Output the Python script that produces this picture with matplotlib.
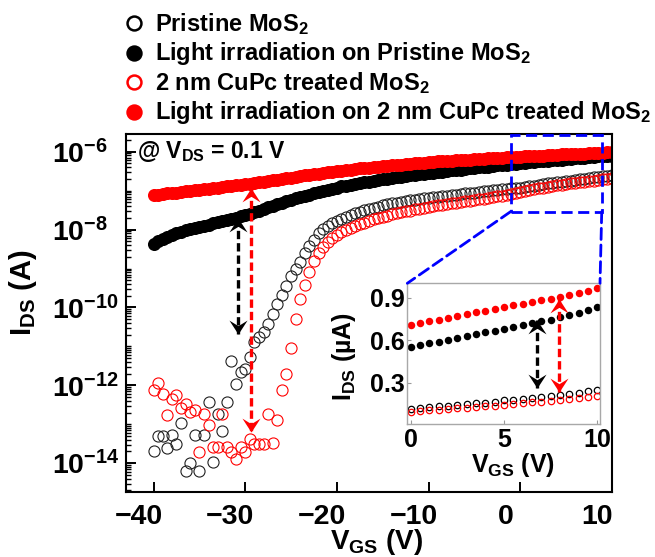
import numpy as np
import matplotlib
matplotlib.use("Agg")
import matplotlib.pyplot as plt
from matplotlib.ticker import FixedLocator, LogLocator, LogFormatterMathtext, NullFormatter
from matplotlib.patches import Rectangle, ConnectionPatch
from matplotlib.lines import Line2D
from matplotlib.path import Path
from matplotlib.transforms import ScaledTranslation

plt.rcParams['font.family'] = ['Liberation Sans', 'DejaVu Sans']
plt.rcParams['font.weight'] = 'bold'
plt.rcParams['axes.labelweight'] = 'bold'
plt.rcParams['mathtext.fontset'] = 'custom'
plt.rcParams['mathtext.rm'] = 'Liberation Sans:bold'
plt.rcParams['mathtext.bf'] = 'Liberation Sans:bold'
plt.rcParams['mathtext.it'] = 'Liberation Sans:bold:italic'
plt.rcParams['mathtext.default'] = 'regular'
plt.rcParams['axes.unicode_minus'] = True

# ---- data (main panel, VGS sweep -40 .. 10 V in 0.5 V steps, log10 of IDS in A)
vgs = np.linspace(-40, 10, 101)

log_dark_pristine = [
    -13.69, -13.31, -13.31, -13.62, -13.28, -13.50, -12.98, -14.20, -14.00, -13.28,
    -14.20, -13.28, -12.43, -13.97, -12.73, -13.18, -12.43, -11.37, -11.97, -11.66,
    -11.57, -11.27, -10.88, -10.75, -10.63, -10.43, -10.17, -9.90, -9.68, -9.45,
    -9.20, -9.00, -8.82, -8.60, -8.43, -8.26, -8.10, -7.98, -7.90, -7.84,
    -7.78, -7.72, -7.67, -7.62, -7.58, -7.54, -7.50, -7.47, -7.44, -7.41,
    -7.38, -7.35, -7.33, -7.31, -7.29, -7.27, -7.25, -7.24, -7.22, -7.20,
    -7.19, -7.17, -7.16, -7.15, -7.13, -7.12, -7.10, -7.09, -7.07, -7.06,
    -7.05, -7.03, -7.02, -7.01, -6.99, -6.98, -6.97, -6.95, -6.94, -6.93,
    -6.92, -6.91, -6.89, -6.87, -6.85, -6.83, -6.81, -6.80, -6.78, -6.77,
    -6.75, -6.74, -6.72, -6.71, -6.69, -6.68, -6.66, -6.65, -6.63, -6.62,
    -6.60]

log_light_pristine = [
    -8.36, -8.30, -8.24, -8.18, -8.13, -8.09, -8.05, -8.02, -7.99, -7.96,
    -7.93, -7.90, -7.87, -7.84, -7.81, -7.78, -7.75, -7.72, -7.69, -7.66,
    -7.63, -7.59, -7.55, -7.51, -7.47, -7.43, -7.39, -7.35, -7.31, -7.27,
    -7.23, -7.19, -7.16, -7.13, -7.10, -7.07, -7.04, -7.01, -6.98, -6.95,
    -6.92, -6.89, -6.87, -6.85, -6.83, -6.81, -6.79, -6.77, -6.75, -6.73,
    -6.71, -6.69, -6.67, -6.65, -6.64, -6.62, -6.61, -6.59, -6.58, -6.56,
    -6.55, -6.54, -6.52, -6.51, -6.50, -6.48, -6.47, -6.46, -6.44, -6.43,
    -6.42, -6.40, -6.39, -6.38, -6.36, -6.35, -6.34, -6.33, -6.32, -6.31,
    -6.29, -6.28, -6.27, -6.26, -6.25, -6.24, -6.23, -6.22, -6.21, -6.20,
    -6.19, -6.18, -6.17, -6.16, -6.15, -6.14, -6.13, -6.12, -6.12, -6.11,
    -6.10]

log_dark_cupc = [
    -12.11, -11.94, -12.23, -12.77, -12.34, -12.25, -12.57, -12.48, -12.68, -12.64,
    -13.71, -12.74, -13.03, -13.58, -13.58, -12.73, -13.58, -13.71, -13.88, -13.58,
    -13.71, -13.37, -13.51, -13.51, -13.51, -12.73, -13.48, -12.88, -12.11, -11.70,
    -11.05, -10.29, -9.78, -9.43, -9.08, -8.80, -8.60, -8.45, -8.33, -8.22,
    -8.13, -8.06, -8.00, -7.96, -7.91, -7.86, -7.82, -7.78, -7.74, -7.71,
    -7.67, -7.64, -7.61, -7.58, -7.56, -7.53, -7.51, -7.48, -7.46, -7.44,
    -7.42, -7.40, -7.38, -7.36, -7.34, -7.33, -7.31, -7.29, -7.27, -7.26,
    -7.24, -7.22, -7.21, -7.19, -7.17, -7.15, -7.13, -7.11, -7.09, -7.06,
    -7.03, -7.00, -6.98, -6.96, -6.94, -6.92, -6.90, -6.88, -6.86, -6.85,
    -6.83, -6.81, -6.80, -6.78, -6.77, -6.75, -6.74, -6.72, -6.71, -6.69,
    -6.68]

log_light_cupc = [
    -7.12, -7.10, -7.09, -7.07, -7.06, -7.05, -7.04, -7.02, -7.01, -6.99,
    -6.98, -6.96, -6.95, -6.94, -6.92, -6.91, -6.89, -6.88, -6.86, -6.85,
    -6.83, -6.82, -6.80, -6.78, -6.77, -6.75, -6.73, -6.72, -6.70, -6.68,
    -6.67, -6.65, -6.63, -6.61, -6.60, -6.58, -6.56, -6.55, -6.53, -6.52,
    -6.50, -6.49, -6.47, -6.46, -6.45, -6.43, -6.42, -6.41, -6.40, -6.38,
    -6.37, -6.36, -6.35, -6.34, -6.33, -6.32, -6.31, -6.30, -6.29, -6.28,
    -6.27, -6.26, -6.25, -6.25, -6.24, -6.23, -6.22, -6.21, -6.21, -6.20,
    -6.19, -6.18, -6.18, -6.17, -6.16, -6.16, -6.15, -6.14, -6.14, -6.13,
    -6.13, -6.12, -6.11, -6.11, -6.10, -6.10, -6.09, -6.08, -6.08, -6.07,
    -6.07, -6.06, -6.06, -6.05, -6.05, -6.04, -6.04, -6.03, -6.03, -6.02,
    -6.02]

# ---- inset data (VGS 0 .. 10 V, IDS in uA)
vgs_inset = np.linspace(0, 10, 21)
i_light_cupc = [0.709, 0.721, 0.733, 0.745, 0.757, 0.770, 0.782, 0.795, 0.807, 0.820, 0.833,
                0.845, 0.857, 0.869, 0.881, 0.893, 0.905, 0.918, 0.931, 0.948, 0.966]
i_light_pristine = [0.552, 0.565, 0.578, 0.591, 0.604, 0.617, 0.629, 0.642, 0.655, 0.667, 0.680,
                    0.693, 0.706, 0.719, 0.732, 0.745, 0.760, 0.776, 0.792, 0.812, 0.833]
i_dark_pristine = [0.118, 0.124, 0.130, 0.136, 0.141, 0.147, 0.152, 0.158, 0.163, 0.168, 0.178,
                   0.183, 0.189, 0.195, 0.201, 0.208, 0.215, 0.222, 0.231, 0.241, 0.253]
i_dark_cupc = [0.094, 0.101, 0.108, 0.113, 0.117, 0.122, 0.127, 0.131, 0.136, 0.141, 0.148,
               0.155, 0.159, 0.164, 0.169, 0.173, 0.183, 0.187, 0.194, 0.201, 0.211]

legend_labels = [r'Pristine MoS$_\mathregular{2}$',
                 r'Light irradiation on Pristine MoS$_\mathregular{2}$',
                 r'2 nm CuPc treated MoS$_\mathregular{2}$',
                 r'Light irradiation on 2 nm CuPc treated MoS$_\mathregular{2}$']

# arrows: (x, start, end) ; main in log10(A), inset in uA
main_arrow_black = (-30.8, -7.69, -10.69)
main_arrow_red = (-29.4, -6.92, -13.2)
inset_arrow_black = (6.75, 0.744, 0.265)
inset_arrow_red = (7.95, 0.889, 0.234)

# stealth-like arrow head, tip at the origin pointing up
head_up = Path([(0, 0), (-0.65, -1), (0, -0.6), (0.65, -1), (0, 0)],
               [Path.MOVETO, Path.LINETO, Path.LINETO, Path.LINETO, Path.CLOSEPOLY])
head_down = Path([(0, 0), (-0.65, 1), (0, 0.6), (0.65, 1), (0, 0)],
                 [Path.MOVETO, Path.LINETO, Path.LINETO, Path.LINETO, Path.CLOSEPOLY])


def double_arrow(axis, x, y0, y1, color):
    axis.plot([x, x], [y0, y1], color=color, lw=2.4, dashes=(2.5, 1.2),
              solid_capstyle='butt', dash_capstyle='butt', zorder=5)
    top, bot = max(y0, y1), min(y0, y1)
    axis.plot([x], [top], marker=head_up, ms=20, color=color, mew=0, zorder=6)
    axis.plot([x], [bot], marker=head_down, ms=20, color=color, mew=0, zorder=6)


fig = plt.figure(figsize=(6.55, 5.57), dpi=100)
ax = fig.add_axes([126 / 655, 1 - 492 / 557, 486 / 655, 358 / 557])

ax.plot(vgs, 10 ** np.array(log_dark_pristine), 'o', mfc='none', mec='#202020', ms=8.0, mew=0.8)
ax.plot(vgs, 10 ** np.array(log_dark_cupc), 'o', mfc='none', mec='red', ms=8.0, mew=0.8)
ax.plot(vgs, 10 ** np.array(log_light_pristine), 'o', color='black', ms=9.4, mew=0)
ax.plot(vgs, 10 ** np.array(log_light_cupc), 'o', color='red', ms=9.4, mew=0)

ax.set_yscale('log')
ax.set_xlim(-43, 10)
ax.set_ylim(10 ** -14.74, 10 ** -5.545)

ax.yaxis.set_major_locator(FixedLocator([1e-14, 1e-12, 1e-10, 1e-8, 1e-6]))
ax.yaxis.set_major_formatter(LogFormatterMathtext())
ax.yaxis.set_minor_locator(LogLocator(base=10, subs=np.arange(1, 10), numticks=40))
ax.yaxis.set_minor_formatter(NullFormatter())
ax.set_xticks([-40, -30, -20, -10, 0, 10])

ax.tick_params(axis='both', which='major', direction='in', length=7.5, width=1.4, labelsize=20.5)
ax.tick_params(axis='y', which='minor', direction='in', length=3.5, width=1.0)
ax.tick_params(axis='x', pad=8.5)
ax.tick_params(axis='y', pad=53)
for sp in ax.spines.values():
    sp.set_linewidth(1.5)

plt.setp(ax.get_yticklabels(), ha='left')
shift = ScaledTranslation(-15 / 100, 0, fig.dpi_scale_trans)
for t in ax.get_xticklabels():
    t.set_transform(t.get_transform() + shift)

ax.set_xlabel(r'V$_\mathregular{GS}$ (V)', fontsize=20)
ax.xaxis.set_label_coords(0.516, -0.098)
ax.set_ylabel(r'I$_\mathregular{DS}$ (A)', fontsize=21)
ax.yaxis.set_label_coords(-0.178, 0.556)

ax.text(0.022, 0.95, r'@ V$_\mathregular{DS}$ = 0.1 V', transform=ax.transAxes,
        fontsize=16.5, va='center', ha='left')

x, a, b = main_arrow_black
double_arrow(ax, x, 10 ** a, 10 ** b, 'black')
x, a, b = main_arrow_red
double_arrow(ax, x, 10 ** a, 10 ** b, 'red')

# zoom box
box_x0, box_x1 = -1.06, 8.88
box_y0, box_y1 = 10 ** -7.54, 10 ** -5.571
ax.add_patch(Rectangle((box_x0, box_y0), box_x1 - box_x0, box_y1 - box_y0, fill=False,
                       edgecolor='blue', lw=2.0, linestyle=(0, (4, 2)), zorder=7))

# inset
axin = fig.add_axes([407.3 / 655, 1 - 424.3 / 557, 192.7 / 655, 141 / 557])
axin.plot(vgs_inset, i_dark_pristine, 'o', mfc='none', mec='black', ms=4.6, mew=0.9)
axin.plot(vgs_inset, i_dark_cupc, 'o', mfc='none', mec='red', ms=4.6, mew=0.9)
axin.plot(vgs_inset, i_light_pristine, 'o', color='black', ms=5.4, mew=0)
axin.plot(vgs_inset, i_light_cupc, 'o', color='red', ms=5.4, mew=0)
axin.set_xlim(-0.18, 10.14)
axin.set_ylim(0.01, 1.0)
axin.set_xticks([0, 5, 10])
axin.set_yticks([0.3, 0.6, 0.9])
axin.tick_params(direction='in', length=3, width=0.8, color='#9a9a9a', labelsize=18)
axin.tick_params(axis='y', pad=1.5)
axin.tick_params(axis='x', pad=3)
for sp in axin.spines.values():
    sp.set_color('#a8a8a8')
    sp.set_linewidth(1.0)
axin.set_xlabel(r'V$_\mathregular{GS}$ (V)', fontsize=18)
axin.xaxis.set_label_coords(0.55, -0.19)
axin.set_ylabel(r'I$_\mathregular{DS}$ (µA)', fontsize=18)
axin.yaxis.set_label_coords(-0.255, 0.48)

x, a, b = inset_arrow_black
double_arrow(axin, x, a, b, 'black')
x, a, b = inset_arrow_red
double_arrow(axin, x, a, b, 'red')

for xy_main, xy_in in [((box_x0, box_y0), (0, 1)), ((box_x1, box_y0), (1, 1))]:
    con = ConnectionPatch(xyA=xy_main, coordsA=ax.transData, xyB=xy_in, coordsB=axin.transAxes,
                          color='blue', lw=2.0, linestyle=(0, (4, 2)), zorder=7)
    fig.add_artist(con)

# legend above the axes
styles = [dict(mfc='white', mec='black'), dict(mfc='black', mec='black'),
          dict(mfc='white', mec='red'), dict(mfc='red', mec='red')]
baselines = [30.7, 60.2, 89.6, 119.0]
for lab, st, yb in zip(legend_labels, styles, baselines):
    fig.add_artist(Line2D([133.7 / 655], [1 - (yb - 7.4) / 557], marker='o', ms=10, mew=1.8,
                          transform=fig.transFigure, **st))
    fig.text(155 / 655, 1 - yb / 557, lab, fontsize=17, ha='left', va='baseline')

fig.savefig('out.png', dpi=100)
